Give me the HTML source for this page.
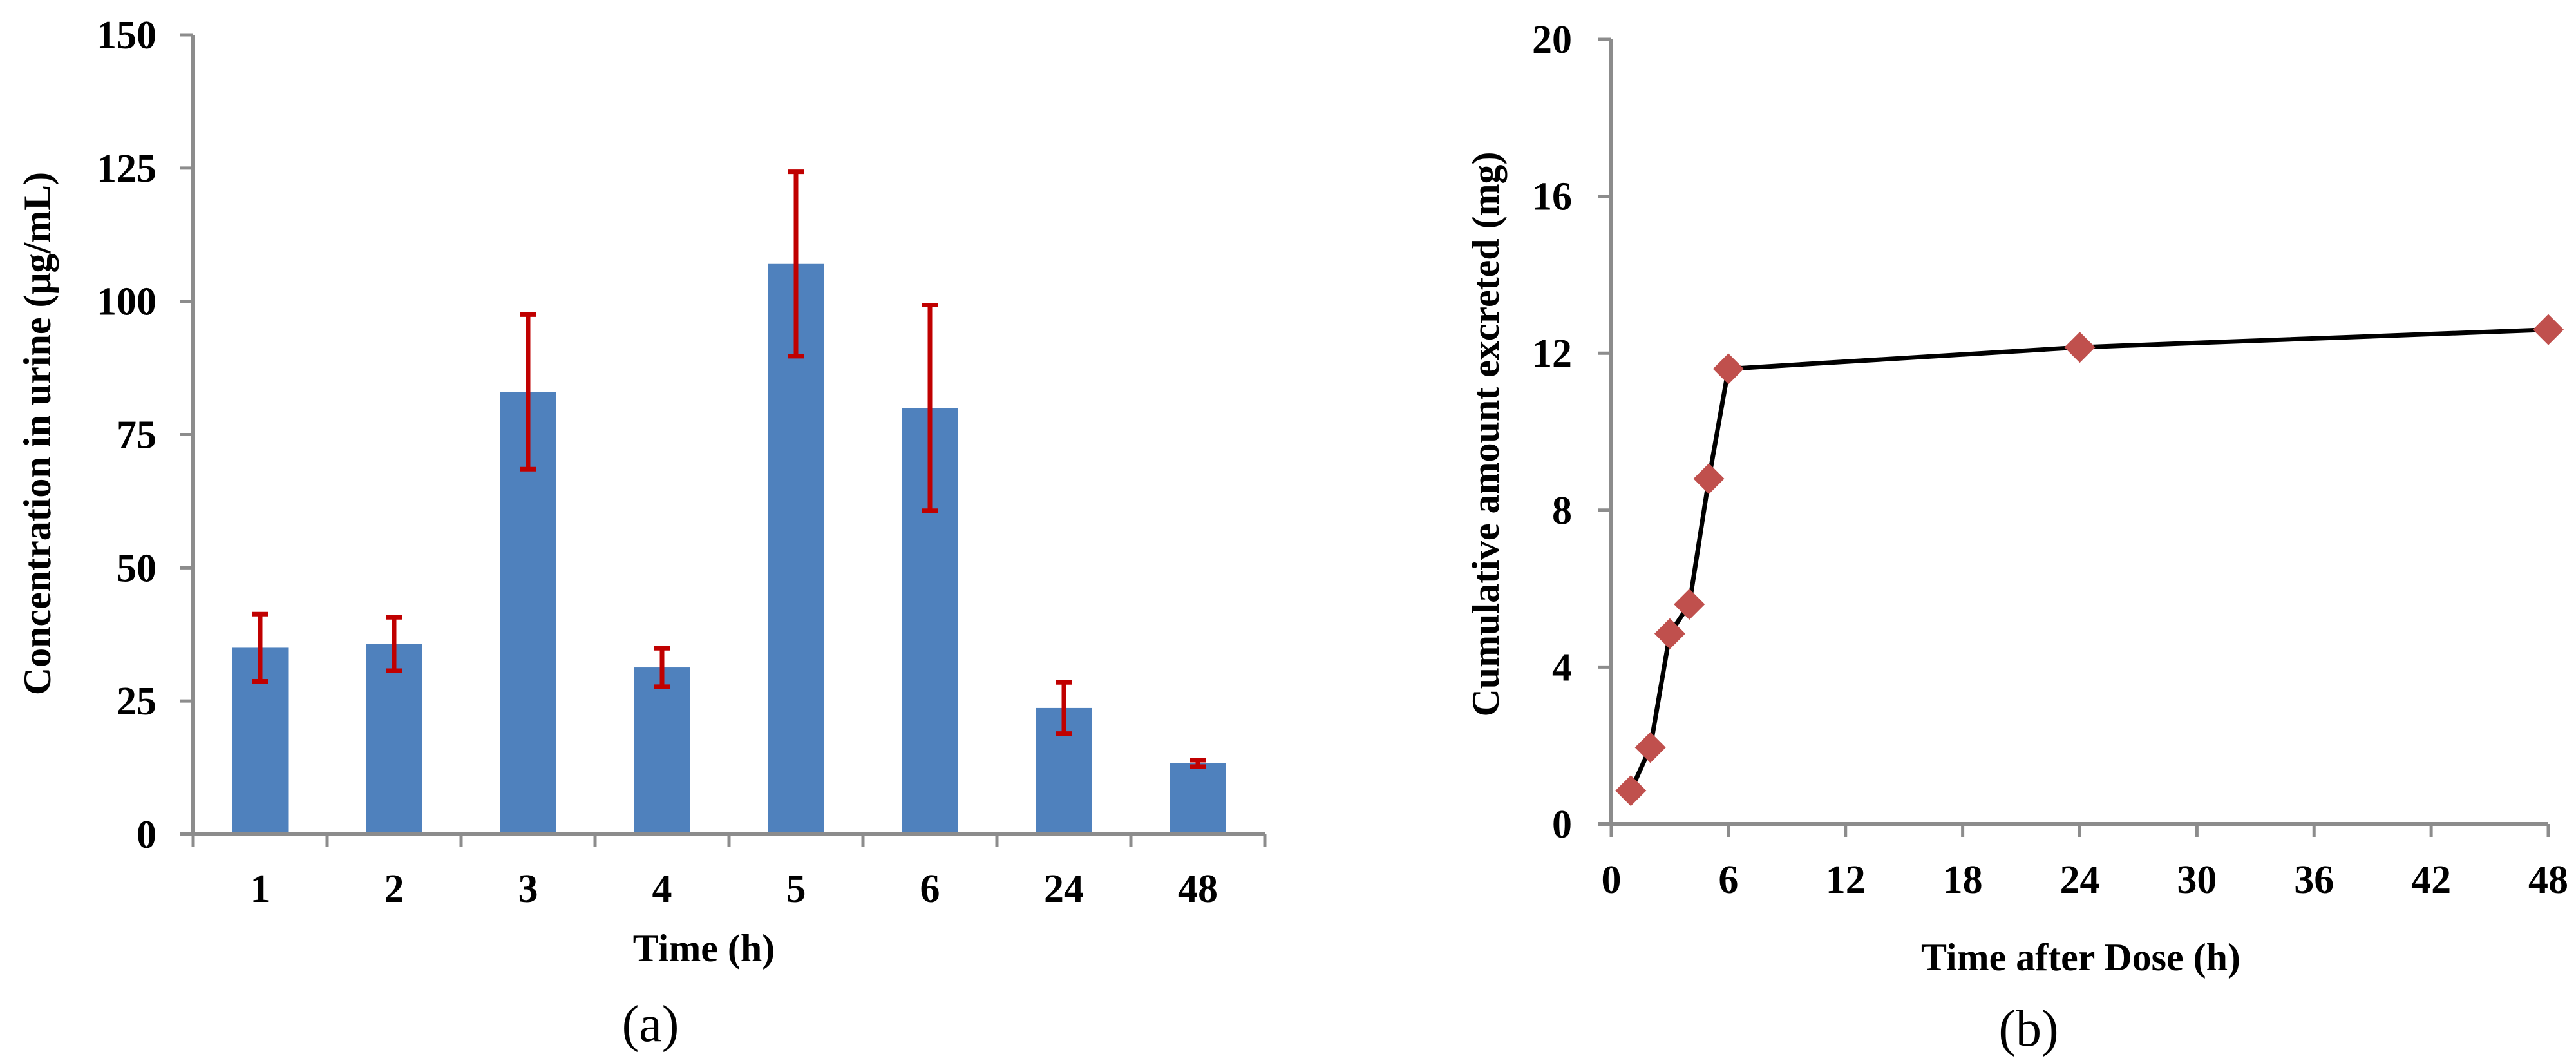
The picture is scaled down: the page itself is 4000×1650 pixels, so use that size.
<!DOCTYPE html>
<html><head><meta charset="utf-8"><style>
html,body{margin:0;padding:0;background:#fff;}
svg{display:block;}
text{font-family:"Liberation Serif",serif;fill:#000;}
</style></head><body>
<svg id="fig" width="4000" height="1650" viewBox="0 0 4000 1650" xmlns="http://www.w3.org/2000/svg">
<g id="chartA"></g>
<g id="chartB"></g>
</svg>
<script>
const catsA = ["1","2","3","4","5","6","24","48"];
const valsA = [35, 35.7, 83, 31.3, 107, 80, 23.7, 13.3];
const errA = [6.3, 5, 14.5, 3.6, 17.3, 19.3, 4.8, 0.6];
const yTicksA = [0, 25, 50, 75, 100, 125, 150];

const xB = [1, 2, 3, 4, 5, 6, 24, 48];
const yB = [0.85, 1.95, 4.85, 5.6, 8.8, 11.6, 12.15, 12.6];
const xTicksB = [0, 6, 12, 18, 24, 30, 36, 42, 48];
const yTicksB = [0, 4, 8, 12, 16, 20];

const NS = "http://www.w3.org/2000/svg";
function mk(parent, tag, attrs, txt) {
  const e = document.createElementNS(NS, tag);
  for (const k in attrs) e.setAttribute(k, attrs[k]);
  if (txt !== undefined) e.textContent = txt;
  parent.appendChild(e);
  return e;
}
const AX = "#8c8c8c";
const FS = 62, TS = 60;

// ---- Chart A ----
(function(){
  const g = document.getElementById('chartA');
  const L = 300, R = 1964, B = 1295, T = 54, yMax = 150;
  const cw = (R - L) / catsA.length;
  const ys = v => B - (v / yMax) * (B - T);
  const xc = i => L + cw * (i + 0.5);
  yTicksA.forEach(t => {
    const tk = mk(g, 'line', {x1: L - 20, x2: L, y1: ys(t), y2: ys(t), stroke: AX, 'stroke-width': 5});
    
    
    const lb = mk(g, 'text', {x: 243, y: ys(t) + 21, 'text-anchor': 'end', 'font-size': FS, 'font-weight': 'bold'}, t);
    
    
  });
  catsA.forEach((c, i) => {
    const bw = 87;
    const bar = mk(g, 'rect', {x: xc(i) - bw / 2, y: ys(valsA[i]), width: bw, height: B - ys(valsA[i]), fill: '#4F81BD'});
    
    
    const hi = ys(valsA[i] + errA[i]), lo = ys(valsA[i] - errA[i]);
    const eb = mk(g, 'path', {d: `M${xc(i)},${hi}V${lo}M${xc(i)-12},${hi}H${xc(i)+12}M${xc(i)-12},${lo}H${xc(i)+12}`, stroke: '#C00000', 'stroke-width': 7, fill: 'none'});
    
    
    const lb = mk(g, 'text', {x: xc(i), y: 1400, 'text-anchor': 'middle', 'font-size': FS, 'font-weight': 'bold'}, c);
    
    
  });
  for (let i = 0; i <= catsA.length; i++) {
    const tk = mk(g, 'line', {x1: L + cw * i, x2: L + cw * i, y1: B, y2: B + 20, stroke: AX, 'stroke-width': 5});
    
    
  }
  const ya = mk(g, 'line', {x1: L, x2: L, y1: T, y2: B, stroke: AX, 'stroke-width': 6});
  
  
  const xa = mk(g, 'line', {x1: L - 20, x2: R, y1: B, y2: B, stroke: AX, 'stroke-width': 6});
  
  
  const xt = mk(g, 'text', {x: 1093, y: 1492, 'text-anchor': 'middle', 'font-size': TS, 'font-weight': 'bold'}, 'Time (h)');
  
  
  const yt = mk(g, 'text', {x: 0, y: 0, transform: 'translate(78,673) rotate(-90)', 'text-anchor': 'middle', 'font-size': TS, 'font-weight': 'bold'}, 'Concentration in urine (μg/mL)');
  
  
  const cap = mk(g, 'text', {x: 1010, y: 1616, 'text-anchor': 'middle', 'font-size': 80}, '(a)');
  
  
})();

// ---- Chart B ----
(function(){
  const g = document.getElementById('chartB');
  const L = 2502, R = 3957, B = 1279, T = 61, xMax = 48, yMax = 20;
  const xs = v => L + (v / xMax) * (R - L);
  const ys = v => B - (v / yMax) * (B - T);
  yTicksB.forEach(t => {
    const tk = mk(g, 'line', {x1: L - 20, x2: L, y1: ys(t), y2: ys(t), stroke: AX, 'stroke-width': 5});
    
    
    const lb = mk(g, 'text', {x: 2441, y: ys(t) + 21, 'text-anchor': 'end', 'font-size': FS, 'font-weight': 'bold'}, t);
    
    
  });
  xTicksB.forEach(t => {
    const tk = mk(g, 'line', {x1: xs(t), x2: xs(t), y1: B, y2: B + 20, stroke: AX, 'stroke-width': 5});
    
    
    const lb = mk(g, 'text', {x: xs(t), y: 1386, 'text-anchor': 'middle', 'font-size': FS, 'font-weight': 'bold'}, t);
    
    
  });
  const ya = mk(g, 'line', {x1: L, x2: L, y1: T, y2: B, stroke: AX, 'stroke-width': 6});
  
  
  const xa = mk(g, 'line', {x1: L - 20, x2: R, y1: B, y2: B, stroke: AX, 'stroke-width': 6});
  
  
  const d = xB.map((x, i) => (i ? 'L' : 'M') + xs(x) + ',' + ys(yB[i])).join('');
  const ln = mk(g, 'path', {d: d, stroke: '#000', 'stroke-width': 7, fill: 'none', 'stroke-linejoin': 'round'});
  
  
  xB.forEach((x, i) => {
    const cx = xs(x), cy = ys(yB[i]), r = 24;
    const m = mk(g, 'path', {d: `M${cx},${cy-r}L${cx+r},${cy}L${cx},${cy+r}L${cx-r},${cy}Z`, fill: '#C0504D'});
    
    
  });
  const xt = mk(g, 'text', {x: 3231, y: 1506, 'text-anchor': 'middle', 'font-size': TS, 'font-weight': 'bold'}, 'Time after Dose (h)');
  
  
  const yt = mk(g, 'text', {x: 0, y: 0, transform: 'translate(2327,674) rotate(-90)', 'text-anchor': 'middle', 'font-size': TS, 'font-weight': 'bold'}, 'Cumulative amount excreted (mg)');
  
  
  const cap = mk(g, 'text', {x: 3150, y: 1623, 'text-anchor': 'middle', 'font-size': 80}, '(b)');
  
  
})();
</script>
</body></html>
